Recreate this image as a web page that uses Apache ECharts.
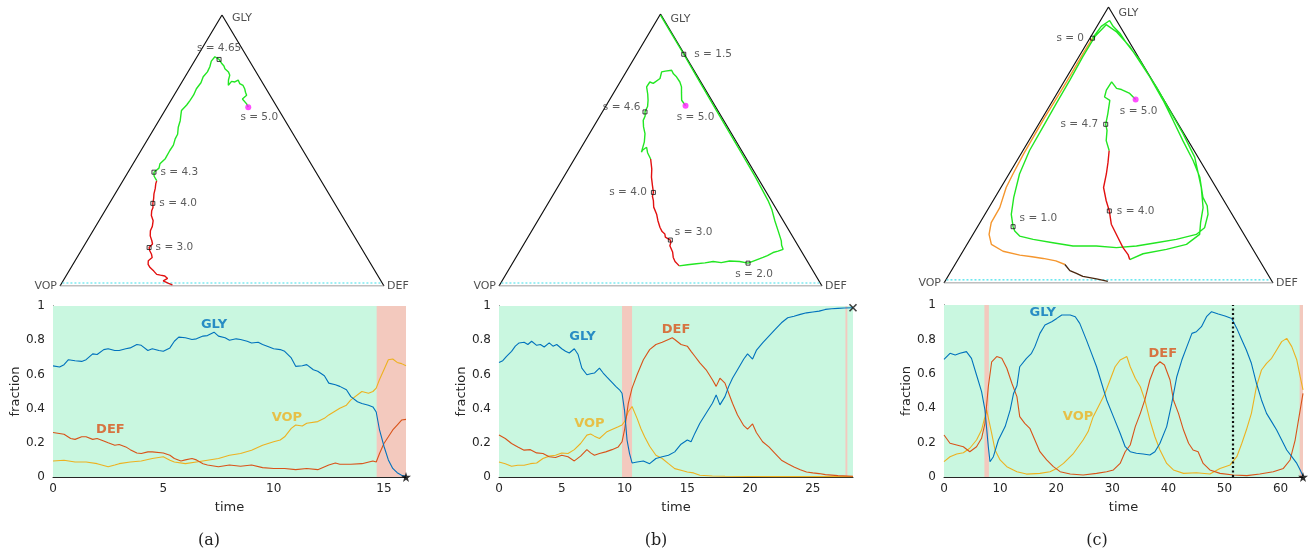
<!DOCTYPE html>
<html><head><meta charset="utf-8">
<script src="https://cdn.jsdelivr.net/npm/echarts@6/dist/echarts.min.js"></script>
<style>html,body{margin:0;padding:0;background:#fff}#c{width:1314px;height:559px}</style>
</head><body><div id="c"></div>
<script>
// ===== time series data: [time, fraction] =====
const GLY_A = [[0,0.65],[0.3,0.643],[0.5,0.657],[0.7,0.686],[1.0,0.68],[1.3,0.676],[1.5,0.686],[1.8,0.72],[2.0,0.716],[2.3,0.745],[2.5,0.75],[2.8,0.74],[3.0,0.74],[3.3,0.75],[3.5,0.755],[3.8,0.775],[4.0,0.77],[4.3,0.74],[4.5,0.75],[4.8,0.74],[5.0,0.735],[5.3,0.755],[5.5,0.794],[5.7,0.818],[6.0,0.814],[6.3,0.804],[6.5,0.808],[6.8,0.824],[7.0,0.827],[7.3,0.847],[7.5,0.824],[7.8,0.814],[8.0,0.8],[8.3,0.808],[8.5,0.804],[8.8,0.794],[9.0,0.784],[9.3,0.788],[9.5,0.775],[9.8,0.76],[10.0,0.75],[10.3,0.745],[10.5,0.735],[10.8,0.696],[11.0,0.647],[11.3,0.651],[11.5,0.657],[11.8,0.627],[12.0,0.618],[12.3,0.592],[12.5,0.549],[12.8,0.539],[13.0,0.53],[13.3,0.51],[13.5,0.47],[13.8,0.44],[14.0,0.43],[14.3,0.42],[14.5,0.41],[14.65,0.38],[14.8,0.275],[15.0,0.18],[15.2,0.1],[15.4,0.05],[15.6,0.025],[15.8,0.01],[16.0,0.004]];
const DEF_A = [[0,0.26],[0.5,0.25],[0.8,0.225],[1.0,0.22],[1.3,0.235],[1.5,0.235],[1.8,0.22],[2.0,0.225],[2.3,0.21],[2.5,0.2],[2.8,0.186],[3.0,0.19],[3.3,0.176],[3.5,0.16],[3.8,0.14],[4.0,0.137],[4.3,0.147],[4.5,0.147],[5.0,0.14],[5.3,0.127],[5.5,0.108],[5.8,0.094],[6.0,0.1],[6.3,0.108],[6.5,0.1],[6.8,0.078],[7.0,0.07],[7.5,0.06],[8.0,0.07],[8.5,0.063],[9.0,0.07],[9.5,0.055],[10,0.05],[10.5,0.05],[11,0.043],[11.5,0.05],[12,0.043],[12.5,0.07],[12.8,0.082],[13,0.075],[13.5,0.075],[14,0.078],[14.5,0.094],[14.65,0.088],[14.8,0.137],[15.0,0.196],[15.2,0.235],[15.4,0.275],[15.6,0.304],[15.8,0.333],[16.0,0.337]];
const VOP_A = [[0,0.094],[0.5,0.098],[1.0,0.088],[1.5,0.088],[2.0,0.078],[2.5,0.06],[2.8,0.07],[3.0,0.078],[3.5,0.088],[4.0,0.094],[4.5,0.108],[5.0,0.118],[5.3,0.098],[5.5,0.088],[6.0,0.078],[6.5,0.088],[7.0,0.098],[7.5,0.108],[8.0,0.127],[8.5,0.137],[9.0,0.157],[9.5,0.186],[10.0,0.206],[10.3,0.216],[10.5,0.235],[10.8,0.284],[11.0,0.304],[11.3,0.298],[11.5,0.314],[12.0,0.324],[12.3,0.343],[12.5,0.363],[13.0,0.402],[13.3,0.42],[13.5,0.451],[14.0,0.5],[14.3,0.49],[14.5,0.5],[14.65,0.52],[14.8,0.57],[15.0,0.627],[15.2,0.686],[15.4,0.69],[15.6,0.67],[15.8,0.663],[16.0,0.65]];

const GLY_B = [[0,0.67],[0.3,0.68],[0.6,0.706],[1.0,0.735],[1.3,0.765],[1.6,0.784],[2.0,0.788],[2.3,0.775],[2.6,0.794],[3.0,0.77],[3.3,0.775],[3.6,0.76],[4.0,0.784],[4.3,0.765],[4.6,0.775],[5.0,0.75],[5.3,0.735],[5.6,0.725],[6.0,0.75],[6.3,0.716],[6.6,0.637],[7.0,0.598],[7.3,0.604],[7.6,0.608],[8.0,0.637],[8.3,0.608],[8.6,0.584],[9.0,0.553],[9.3,0.53],[9.6,0.51],[9.8,0.49],[10.0,0.39],[10.2,0.216],[10.4,0.137],[10.6,0.082],[11.0,0.088],[11.5,0.094],[12.0,0.078],[12.5,0.108],[13.0,0.118],[13.5,0.127],[14.0,0.147],[14.5,0.192],[15.0,0.216],[15.3,0.206],[15.6,0.255],[16.0,0.314],[16.5,0.373],[17.0,0.431],[17.3,0.48],[17.6,0.422],[18.0,0.47],[18.3,0.53],[18.6,0.578],[19.0,0.627],[19.5,0.69],[19.8,0.72],[20.2,0.69],[20.5,0.74],[21.0,0.784],[21.5,0.824],[22.0,0.863],[22.5,0.902],[23.0,0.931],[23.5,0.94],[24.0,0.951],[24.5,0.96],[25.0,0.965],[25.5,0.97],[26.0,0.98],[26.5,0.984],[27.0,0.986],[27.5,0.988],[28.2,0.99]];
const DEF_B = [[0,0.245],[0.5,0.225],[1.0,0.196],[1.5,0.176],[2.0,0.157],[2.5,0.16],[3.0,0.141],[3.5,0.137],[4.0,0.118],[4.5,0.114],[5.0,0.127],[5.5,0.118],[6.0,0.094],[6.5,0.122],[7.0,0.16],[7.3,0.141],[7.6,0.127],[8.0,0.137],[8.5,0.147],[9.0,0.16],[9.5,0.176],[9.8,0.206],[10.0,0.275],[10.3,0.431],[10.6,0.52],[11.0,0.598],[11.5,0.686],[12.0,0.745],[12.5,0.775],[13.0,0.788],[13.5,0.804],[13.8,0.814],[14.0,0.804],[14.5,0.775],[15.0,0.765],[15.3,0.735],[15.6,0.706],[16.0,0.667],[16.5,0.627],[17.0,0.569],[17.3,0.53],[17.6,0.578],[18.0,0.549],[18.3,0.49],[18.6,0.431],[19.0,0.363],[19.5,0.3],[19.8,0.28],[20.2,0.31],[20.5,0.26],[21.0,0.206],[21.5,0.176],[22.0,0.137],[22.5,0.098],[23.0,0.078],[23.5,0.059],[24.0,0.043],[24.5,0.029],[25,0.024],[25.5,0.02],[26,0.014],[27,0.008],[28.2,0.004]];
const VOP_B = [[0,0.088],[0.5,0.078],[1.0,0.063],[1.5,0.069],[2.0,0.069],[2.5,0.078],[3.0,0.082],[3.5,0.108],[4.0,0.122],[4.5,0.127],[5.0,0.14],[5.5,0.137],[6.0,0.16],[6.5,0.196],[7.0,0.245],[7.3,0.251],[7.6,0.239],[8.0,0.225],[8.3,0.245],[8.6,0.265],[9.0,0.278],[9.5,0.294],[9.8,0.304],[10.0,0.324],[10.3,0.382],[10.6,0.412],[11.0,0.343],[11.3,0.284],[11.6,0.235],[12.0,0.18],[12.5,0.127],[13.0,0.108],[13.5,0.078],[14.0,0.049],[14.5,0.039],[15.0,0.029],[15.5,0.024],[16.0,0.01],[17,0.006],[18,0.004],[20,0.003],[22,0.002],[28.2,0.002]];

const GLY_C = [[0,0.684],[1.07,0.719],[2,0.709],[2.85,0.719],[4,0.729],[4.9,0.69],[5.8,0.593],[6.7,0.496],[7.3,0.39],[7.9,0.176],[8.2,0.089],[8.8,0.118],[9.7,0.215],[10.9,0.293],[11.8,0.39],[12.4,0.486],[13,0.53],[13.5,0.641],[14.7,0.69],[15.6,0.719],[16.2,0.758],[17.1,0.835],[18,0.884],[19.2,0.903],[20.1,0.922],[21,0.942],[22.5,0.942],[23.4,0.932],[24.2,0.893],[25.4,0.796],[26.3,0.719],[27.2,0.641],[28.1,0.545],[29,0.448],[30.2,0.351],[31.4,0.254],[32.3,0.176],[33.2,0.147],[34.3,0.138],[35.5,0.134],[36.7,0.128],[37.6,0.147],[38.5,0.196],[39.7,0.293],[40.6,0.428],[41.5,0.583],[42.4,0.68],[43.3,0.758],[44.2,0.835],[45,0.845],[45.9,0.874],[46.8,0.932],[47.7,0.961],[48.9,0.948],[50.1,0.936],[51.3,0.922],[52.2,0.864],[53.1,0.796],[53.9,0.738],[54.8,0.661],[55.7,0.545],[56.6,0.448],[57.5,0.37],[58.4,0.322],[59.3,0.273],[60.2,0.215],[61.1,0.157],[62,0.118],[62.9,0.079],[63.5,0.041],[64,0.006]];
const DEF_C = [[0,0.244],[1.07,0.196],[2.26,0.186],[3.45,0.176],[4.6,0.147],[5.8,0.176],[6.7,0.225],[7.3,0.312],[7.9,0.525],[8.5,0.67],[9.4,0.7],[10.3,0.69],[11.2,0.632],[12.1,0.545],[13,0.467],[13.5,0.351],[14.4,0.312],[15.3,0.283],[16.2,0.215],[17.1,0.147],[18.3,0.099],[19.5,0.06],[20.7,0.031],[22.5,0.017],[24.8,0.012],[27.2,0.021],[29,0.031],[30.2,0.041],[31.4,0.079],[32.3,0.147],[33.2,0.186],[34.1,0.293],[35,0.37],[35.8,0.448],[36.7,0.564],[37.6,0.641],[38.5,0.67],[39.3,0.651],[40.3,0.564],[40.9,0.448],[41.8,0.37],[42.7,0.273],[43.6,0.196],[44.4,0.157],[45.3,0.147],[46.2,0.079],[47.4,0.041],[49.2,0.021],[51.6,0.012],[54,0.008],[56.3,0.017],[58.7,0.031],[60.5,0.05],[61.7,0.099],[62.6,0.215],[63.5,0.39],[64,0.486]];
const VOP_C = [[0,0.089],[1.07,0.118],[2.26,0.134],[3.45,0.141],[4.6,0.167],[5.8,0.215],[6.7,0.273],[7.6,0.39],[7.9,0.4],[8.5,0.254],[9.1,0.157],[10,0.099],[11.2,0.06],[13,0.031],[14.7,0.017],[17.1,0.021],[18.9,0.031],[20.1,0.05],[21.3,0.079],[23.1,0.138],[24.8,0.215],[25.7,0.264],[26.6,0.351],[27.8,0.428],[28.7,0.486],[29.6,0.564],[30.5,0.641],[31.4,0.68],[32.6,0.7],[33.2,0.641],[34.1,0.574],[35,0.525],[35.8,0.448],[36.7,0.331],[37.6,0.234],[38.5,0.157],[39.7,0.079],[40.9,0.041],[42.7,0.021],[45,0.025],[47.4,0.017],[49.2,0.05],[51,0.07],[52.2,0.118],[53.1,0.196],[53.9,0.273],[54.8,0.37],[55.7,0.525],[56.6,0.622],[57.5,0.661],[58.4,0.69],[59.3,0.738],[60.2,0.787],[61.1,0.806],[62,0.758],[62.9,0.68],[63.5,0.583],[64,0.506]];

// time ranges and shaded intervals
const TMAX = [16, 28.2, 64];
const PINK_A = [[14.67, 16]];
const PINK_B = [[9.8, 10.6], [27.6, 27.75]];
const PINK_C = [[7.2, 8.0], [63.4, 64]];
const DOTTED_C = [51.4];
// series label positions [time, fraction]
const LBL_A = {GLY:[7.3,0.89], DEF:[2.6,0.275], VOP:[10.6,0.35]};
const LBL_B = {GLY:[6.65,0.82], DEF:[14.1,0.86], VOP:[7.2,0.31]};
const LBL_C = {GLY:[17.6,0.953], DEF:[39.0,0.72], VOP:[23.9,0.35]};
const END_A = [16, 0], END_B = [28.2, 0.99], END_C = [64, 0];

// ===== ternary trajectories: [GLY fraction, DEF fraction] =====
const TRI_SIDES = [[0,0],[1,0],[0,1]]; // VOP, GLY, DEF
const TRI_BASE = [[0,0],[0,1]];
const TRI_CYAN = [[0.011,0.002],[0.011,0.987]];
const TA_RED = [[0.004,0.345],[0.01,0.33],[0.019,0.309],[0.028,0.318],[0.037,0.305],[0.04,0.29],[0.043,0.277],[0.055,0.262],[0.068,0.244],[0.08,0.232],[0.093,0.226],[0.105,0.232],[0.117,0.224],[0.13,0.212],[0.142,0.204],[0.155,0.208],[0.167,0.2],[0.185,0.186],[0.204,0.177],[0.22,0.175],[0.241,0.167],[0.26,0.152],[0.278,0.144],[0.29,0.142],[0.305,0.134],[0.322,0.128],[0.34,0.12],[0.36,0.114],[0.377,0.107],[0.389,0.104]];
const TA_GREEN = [[0.389,0.104],[0.405,0.088],[0.42,0.08],[0.435,0.088],[0.451,0.083],[0.47,0.09],[0.5,0.089],[0.52,0.09],[0.543,0.084],[0.56,0.083],[0.586,0.072],[0.61,0.066],[0.63,0.058],[0.648,0.051],[0.668,0.057],[0.685,0.059],[0.705,0.06],[0.728,0.057],[0.75,0.06],[0.772,0.056],[0.79,0.06],[0.809,0.058],[0.83,0.052],[0.846,0.055],[0.848,0.059],[0.836,0.073],[0.82,0.09],[0.812,0.1],[0.802,0.108],[0.79,0.125],[0.778,0.135],[0.76,0.14],[0.741,0.149],[0.755,0.152],[0.753,0.163],[0.76,0.17],[0.747,0.181],[0.74,0.195],[0.728,0.206],[0.715,0.215],[0.704,0.224],[0.69,0.218],[0.685,0.223],[0.672,0.24],[0.66,0.251]];
const TA_MARK = [[0.142,0.204],[0.305,0.134],[0.42,0.08],[0.836,0.073]];
const TA_TXT = ['s = 3.0','s = 4.0','s = 4.3','s = 4.65'];
const TA_END = [0.66,0.251];

const TB_GREEN1 = [[0.996,0.002],[0.929,0.069],[0.852,0.146],[0.769,0.228],[0.646,0.35],[0.492,0.503],[0.4,0.594],[0.314,0.676],[0.28,0.705],[0.24,0.734],[0.2,0.765],[0.166,0.791],[0.15,0.8],[0.135,0.812],[0.128,0.8],[0.123,0.787],[0.112,0.775],[0.105,0.765],[0.095,0.748],[0.084,0.729],[0.09,0.7],[0.092,0.668],[0.086,0.645],[0.09,0.618],[0.085,0.595],[0.082,0.57],[0.078,0.545],[0.074,0.521]];
const TB_RED = [[0.074,0.521],[0.09,0.5],[0.105,0.487],[0.125,0.475],[0.148,0.455],[0.16,0.452],[0.169,0.446],[0.18,0.425],[0.191,0.418],[0.2,0.405],[0.215,0.391],[0.24,0.372],[0.264,0.356],[0.29,0.334],[0.314,0.321],[0.33,0.31],[0.344,0.306],[0.37,0.29],[0.4,0.272],[0.43,0.258],[0.467,0.236]];
const TB_GREEN2 = [[0.467,0.236],[0.49,0.215],[0.51,0.202],[0.5,0.195],[0.492,0.195],[0.53,0.185],[0.56,0.172],[0.585,0.155],[0.609,0.142],[0.625,0.14],[0.64,0.132],[0.66,0.13],[0.683,0.12],[0.705,0.108],[0.732,0.091],[0.75,0.092],[0.745,0.105],[0.763,0.117],[0.787,0.11],[0.79,0.12],[0.793,0.138],[0.78,0.15],[0.769,0.165],[0.75,0.185],[0.732,0.199],[0.71,0.21],[0.683,0.224],[0.663,0.246]];
const TB_MARK = [[0.852,0.146],[0.084,0.729],[0.169,0.446],[0.344,0.306],[0.64,0.132]];
const TB_TXT = ['s = 1.5','s = 2.0','s = 3.0','s = 4.0','s = 4.6'];
const TB_END = [0.663,0.246];

const TC_ORANGE = [[0.887,0.008],[0.832,0.007],[0.729,0.008],[0.595,0.006],[0.468,0.008],[0.395,0.012],[0.346,0.016],[0.273,0.033],[0.219,0.034],[0.176,0.049],[0.14,0.074],[0.115,0.122],[0.101,0.18],[0.095,0.22],[0.089,0.257],[0.08,0.3],[0.067,0.334]];
const TC_BROWN = [[0.067,0.334],[0.045,0.36],[0.035,0.385],[0.024,0.41],[0.015,0.456],[0.006,0.495]];
const TC_GREEN1 = [[0.887,0.008],[0.93,0.013],[0.951,0.028],[0.93,0.049],[0.905,0.082],[0.869,0.12],[0.808,0.191],[0.747,0.252],[0.662,0.335],[0.589,0.402],[0.516,0.468],[0.443,0.536],[0.383,0.586],[0.31,0.632],[0.28,0.66],[0.249,0.678],[0.2,0.692],[0.176,0.679],[0.158,0.627],[0.146,0.572],[0.134,0.518],[0.128,0.46],[0.134,0.396],[0.134,0.325],[0.146,0.258],[0.158,0.192],[0.17,0.145],[0.188,0.121],[0.204,0.108],[0.249,0.08],[0.31,0.057],[0.395,0.032],[0.48,0.02],[0.565,0.018],[0.65,0.016],[0.735,0.015],[0.82,0.012],[0.893,0.012],[0.936,0.025],[0.911,0.068],[0.857,0.136],[0.784,0.213],[0.711,0.29],[0.626,0.373],[0.541,0.456],[0.456,0.534],[0.346,0.609],[0.273,0.651],[0.22,0.67],[0.176,0.689],[0.14,0.667],[0.122,0.615],[0.106,0.552],[0.085,0.522]];
const TC_RED = [[0.085,0.522],[0.103,0.508],[0.128,0.48],[0.164,0.447],[0.213,0.402],[0.261,0.372],[0.298,0.344],[0.346,0.312],[0.395,0.296],[0.437,0.28],[0.48,0.262]];
const TC_GREEN2 = [[0.48,0.262],[0.516,0.235],[0.553,0.219],[0.575,0.204],[0.614,0.191],[0.662,0.173],[0.674,0.151],[0.699,0.144],[0.729,0.145],[0.705,0.172],[0.701,0.189],[0.687,0.221],[0.665,0.25]];
const TC_MARK = [[0.887,0.008],[0.204,0.108],[0.261,0.372],[0.575,0.204]];
const TC_TXT = ['s = 0','s = 1.0','s = 4.0','s = 4.7'];
const TC_END = [0.665,0.25];

const VERTS = {GLY:[1,0], VOP:[0,0], DEF:[0,1]};
const PANEL = ['(a)','(b)','(c)'];

// ===== styling =====
const FONT = 'DejaVu Sans';
const C_GLY = '#0072BD', C_DEF = '#D95319', C_VOP = '#EDB120';
const GREEN_BG = '#c9f7e0', PINK_BG = '#f3c9be';
const TR_GREEN = '#22e622', TR_RED = '#e21010', TR_ORANGE = '#f5962e', TR_BROWN = '#4a2810';
const AX = '#262626';

function tern(p){ return [p[1] + p[0] / 2, p[0]]; }

const TGRIDS = [
  {left:60, top:15, width:324, height:271},
  {left:499, top:14, width:323, height:272},
  {left:944, top:7, width:329, height:276}
];
const SGRIDS = [
  {left:53, top:306, width:353, height:171},
  {left:499, top:306, width:354, height:171},
  {left:944, top:305, width:359, height:172}
];

const grid = TGRIDS.concat(SGRIDS).map(g => Object.assign({outerBoundsMode:'none', containLabel:false}, g));
const xAxis = [], yAxis = [], series = [];
for (let i = 0; i < 3; i++) {
  xAxis.push({gridIndex:i, type:'value', min:0, max:1, show:false});
  yAxis.push({gridIndex:i, type:'value', min:0, max:1, show:false});
}
const XINT = [5, 5, 10];
for (let i = 0; i < 3; i++) {
  xAxis.push({gridIndex:3+i, type:'value', min:0, max:TMAX[i], interval:XINT[i],
    axisLine:{show:true, lineStyle:{color:AX, width:1}},
    axisTick:{show:true, inside:true, length:4, lineStyle:{color:AX}},
    axisLabel:{color:AX, fontSize:12, fontFamily:FONT, margin:6, showMaxLabel:false,
      formatter: v => (Math.abs(v / XINT[i] - Math.round(v / XINT[i])) < 1e-6 ? String(v) : '')},
    splitLine:{show:false},
    name:'time', nameLocation:'middle', nameGap:24,
    nameTextStyle:{color:AX, fontSize:13, fontFamily:FONT}});
  yAxis.push({gridIndex:3+i, type:'value', min:0, max:1, interval:0.2,
    axisLine:{show:true, lineStyle:{color:AX, width:1}},
    axisTick:{show:true, inside:true, length:4, lineStyle:{color:AX}},
    axisLabel:{color:AX, fontSize:12, fontFamily:FONT, margin:8},
    splitLine:{show:false},
    name:'fraction', nameLocation:'middle', nameGap:31,
    nameTextStyle:{color:AX, fontSize:13, fontFamily:FONT}});
}

// ----- ternary panels -----
const TDATA = [
  {paths:[[TA_RED,TR_RED],[TA_GREEN,TR_GREEN]], mark:TA_MARK, txt:TA_TXT, end:TA_END,
   lpos:[{position:'right',distance:4},{position:'right',distance:4},{position:'right',distance:4},{position:'top',distance:3}],
   endLbl:{position:'bottom', distance:2, offset:[11,0]},
   glyOff:[0,3]},
  {paths:[[TB_GREEN1,TR_GREEN],[TB_RED,TR_RED],[TB_GREEN2,TR_GREEN]], mark:TB_MARK, txt:TB_TXT, end:TB_END,
   lpos:[{position:'right',distance:8},{position:'bottom',distance:3,offset:[6,0]},{position:'right',distance:2,offset:[0,-8]},{position:'left',distance:4},{position:'left',distance:2,offset:[0,-5]}],
   endLbl:{position:'bottom', distance:3, offset:[10,0]},
   glyOff:[0,5]},
  {paths:[[TC_ORANGE,TR_ORANGE],[TC_BROWN,TR_BROWN],[TC_GREEN1,TR_GREEN],[TC_RED,TR_RED],[TC_GREEN2,TR_GREEN]], mark:TC_MARK, txt:TC_TXT, end:TC_END,
   lpos:[{position:'left',distance:6},{position:'right',distance:4,offset:[0,-8]},{position:'right',distance:5},{position:'left',distance:5}],
   endLbl:{position:'bottom', distance:3, offset:[3,0]},
   glyOff:[0,6]}
];
TDATA.forEach((P, i) => {
  series.push({type:'line', xAxisIndex:i, yAxisIndex:i, data:TRI_SIDES.map(tern), symbol:'none', silent:true,
    lineStyle:{color:'#111', width:1.2}, z:3});
  series.push({type:'line', xAxisIndex:i, yAxisIndex:i, data:TRI_BASE.map(tern), symbol:'none', silent:true,
    lineStyle:{color:'#808080', width:1.2}, z:3});
  series.push({type:'line', xAxisIndex:i, yAxisIndex:i, data:TRI_CYAN.map(tern), symbol:'none', silent:true,
    lineStyle:{color:'#3fe0ea', width:1.2, type:[2,2]}, z:3});
  P.paths.forEach(pp => {
    series.push({type:'line', xAxisIndex:i, yAxisIndex:i, data:pp[0].map(tern), symbol:'none', silent:true,
      lineStyle:{color:pp[1], width:1.4}, z:4});
  });
  series.push({type:'scatter', xAxisIndex:i, yAxisIndex:i, symbol:'rect', symbolSize:4, silent:true, z:6,
    itemStyle:{color:'rgba(255,255,255,0)', borderColor:'#111', borderWidth:1},
    data:P.mark.map((p, k) => ({value:tern(p), label:Object.assign({show:true, formatter:P.txt[k],
      color:'#333', fontSize:10.5, fontFamily:FONT}, P.lpos[k])}))});
  series.push({type:'scatter', xAxisIndex:i, yAxisIndex:i, symbol:'circle', symbolSize:6, silent:true, z:7,
    itemStyle:{color:'#ff22ff'},
    data:[{value:tern(P.end), label:Object.assign({show:true, formatter:'s = 5.0', color:'#333', fontSize:10.5, fontFamily:FONT}, P.endLbl)}]});
  series.push({type:'scatter', xAxisIndex:i, yAxisIndex:i, symbolSize:0, silent:true, z:7,
    label:{show:true, color:'#222', fontSize:11, fontFamily:FONT},
    data:[
      {value:tern(VERTS.GLY), label:{formatter:'GLY', position:'right', distance:10, offset:P.glyOff}},
      {value:tern(VERTS.VOP), label:{formatter:'VOP', position:'left', distance:3}},
      {value:tern(VERTS.DEF), label:{formatter:'DEF', position:'right', distance:3}}
    ]});
});

// ----- time-series panels -----
const SDATA = [
  {g:GLY_A, d:DEF_A, v:VOP_A, pink:PINK_A, lbl:LBL_A, end:END_A, endSym:'star', dotted:[]},
  {g:GLY_B, d:DEF_B, v:VOP_B, pink:PINK_B, lbl:LBL_B, end:END_B, endSym:'x', dotted:[]},
  {g:GLY_C, d:DEF_C, v:VOP_C, pink:PINK_C, lbl:LBL_C, end:END_C, endSym:'star', dotted:DOTTED_C}
];
const STAR = 'path://M50,0 L61,35 L98,35 L68,57 L79,91 L50,70 L21,91 L32,57 L2,35 L39,35 Z';
const XMARK = 'path://M0,0 L10,10 M10,0 L0,10';
SDATA.forEach((S, i) => {
  const ax = 3 + i;
  const areas = [[{xAxis:0, itemStyle:{color:GREEN_BG}}, {xAxis:TMAX[i]}]]
    .concat(S.pink.map(r => [{xAxis:r[0], itemStyle:{color:PINK_BG}}, {xAxis:r[1]}]));
  series.push({type:'line', xAxisIndex:ax, yAxisIndex:ax, data:[[0,null]], symbol:'none', silent:true, z:0,
    markArea:{silent:true, data:areas},
    markLine:{silent:true, symbol:'none', label:{show:false},
      lineStyle:{color:'#111', width:2.2, type:[2,2.5]}, data:S.dotted.map(x => ({xAxis:x}))}});
  [[S.v, C_VOP], [S.d, C_DEF], [S.g, C_GLY]].forEach(c => {
    series.push({type:'line', xAxisIndex:ax, yAxisIndex:ax, data:c[0], symbol:'none', silent:true, z:3,
      lineStyle:{color:c[1], width:1.1}});
  });
  series.push({type:'scatter', xAxisIndex:ax, yAxisIndex:ax, symbolSize:0, silent:true, z:5,
    label:{show:true, position:'inside', fontSize:13, fontWeight:'bold', fontFamily:FONT},
    data:[
      {value:S.lbl.GLY, label:{formatter:'GLY', color:C_GLY}},
      {value:S.lbl.DEF, label:{formatter:'DEF', color:C_DEF}},
      {value:S.lbl.VOP, label:{formatter:'VOP', color:C_VOP}}
    ]});
  series.push({type:'scatter', xAxisIndex:ax, yAxisIndex:ax, silent:true, z:6,
    symbol: S.endSym === 'star' ? STAR : XMARK, symbolSize: S.endSym === 'star' ? 10 : 7,
    itemStyle: S.endSym === 'star' ? {color:'#000'} : {color:'none', borderColor:'#111', borderWidth:1.6},
    data:[S.end]});
});

const PANEL_X = [209, 656, 1097];
const graphic = PANEL.map((t, i) => ({type:'text', x:PANEL_X[i], y:541, silent:true,
  style:{text:t, fill:'#222', font:'16px "DejaVu Serif"', textAlign:'center', textVerticalAlign:'middle'}}));

const chart = echarts.init(document.getElementById('c'), null, {renderer:'canvas'});
chart.setOption({backgroundColor:'#fff', animation:false, grid, xAxis, yAxis, series, graphic});
</script>
</body></html>
